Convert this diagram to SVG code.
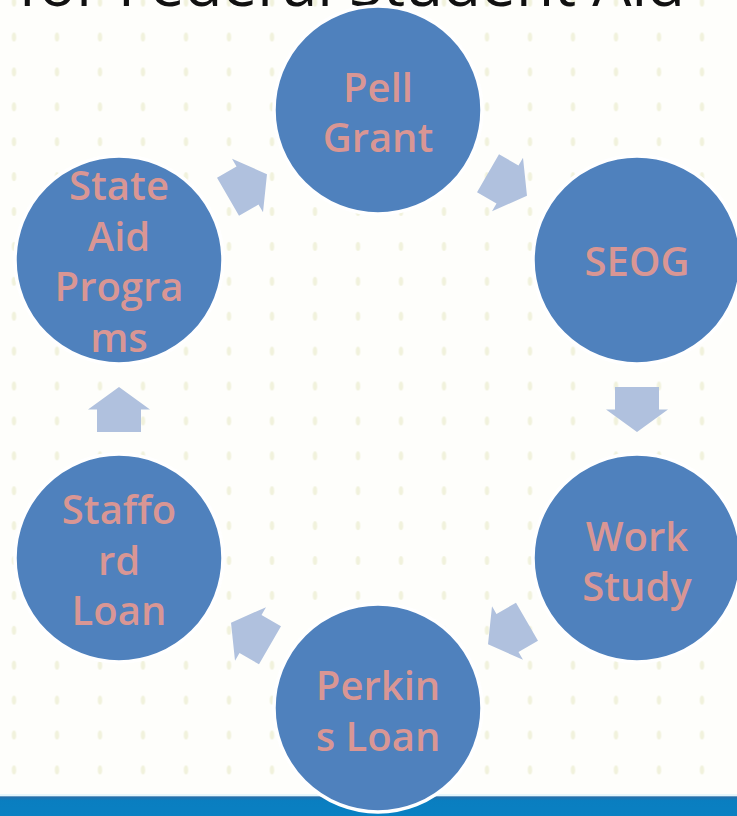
<svg xmlns="http://www.w3.org/2000/svg" width="737" height="816" viewBox="0 0 737 816">
  <style>
    .node { fill: #4f81bd; stroke: #ffffff; stroke-width: 3.5; }
    .lbl { font-family: "Open Sans", "Liberation Sans", sans-serif; font-weight: 600; font-size: 40px; fill: #d99694; text-anchor: middle; }
    .title { font-family: "Open Sans", "Liberation Sans", sans-serif; font-size: 62px; fill: #111111; }
    .arrow { fill: #b0c1de; }
  </style>
  <defs>
    <pattern id="dots" patternUnits="userSpaceOnUse" x="-7.5" y="19.55" width="43" height="34.9">
      <ellipse cx="21.5" cy="17.45" rx="2.2" ry="4.5" fill="#e8eac8" opacity="0.6"/>
    </pattern>
    <linearGradient id="band" x1="0" y1="0" x2="0" y2="1">
      <stop offset="0" stop-color="#e6f6fb"/>
      <stop offset="0.1" stop-color="#e6f6fb"/>
      <stop offset="0.12" stop-color="#2a6ea8"/>
      <stop offset="0.3" stop-color="#0a7ec0"/>
      <stop offset="1" stop-color="#0a80c2"/>
    </linearGradient>
    <polygon id="arr" class="arrow" points="-22.5,-22 0,-22 0,-31 22.5,0 0,31 0,22 -22.5,22"/>
  </defs>

  <rect x="0" y="0" width="737" height="816" fill="#fefefb"/>
  <rect x="0" y="0" width="737" height="795" fill="url(#dots)"/>
  <rect x="0" y="794" width="737" height="22" fill="url(#band)"/>

  <text class="title" x="18" y="6" textLength="667" lengthAdjust="spacingAndGlyphs">for Federal Student Aid</text>

  <g id="connectors">
    <use href="#arr" transform="translate(507.5,184.5) rotate(30)"/>
    <use href="#arr" transform="translate(637,409.5) rotate(90)"/>
    <use href="#arr" transform="translate(507.5,633) rotate(150)"/>
    <use href="#arr" transform="translate(250.5,634) rotate(210)"/>
    <use href="#arr" transform="translate(119,409.5) rotate(270)"/>
    <use href="#arr" transform="translate(247.5,185.5) rotate(330)"/>
  </g>

  <g id="pell-grant">
    <circle class="node" cx="378" cy="110" r="104"/>
    <text class="lbl" x="378" y="102">Pell</text>
    <text class="lbl" x="378" y="152">Grant</text>
  </g>
  <g id="seog">
    <circle class="node" cx="637" cy="260" r="104"/>
    <text class="lbl" x="637" y="276">SEOG</text>
  </g>
  <g id="work-study">
    <circle class="node" cx="637" cy="558" r="104"/>
    <text class="lbl" x="637" y="551">Work</text>
    <text class="lbl" x="637" y="601">Study</text>
  </g>
  <g id="perkins-loan">
    <circle class="node" cx="378" cy="708" r="104"/>
    <text class="lbl" x="378" y="700">Perkin</text>
    <text class="lbl" x="378" y="751">s Loan</text>
  </g>
  <g id="stafford-loan">
    <circle class="node" cx="119" cy="558" r="104"/>
    <text class="lbl" x="119" y="524">Staffo</text>
    <text class="lbl" x="119" y="575">rd</text>
    <text class="lbl" x="119" y="625">Loan</text>
  </g>
  <g id="state-aid-programs">
    <circle class="node" cx="119" cy="260" r="104"/>
    <text class="lbl" x="119" y="200">State</text>
    <text class="lbl" x="119" y="251">Aid</text>
    <text class="lbl" x="119" y="301">Progra</text>
    <text class="lbl" x="119" y="352">ms</text>
  </g>
</svg>
